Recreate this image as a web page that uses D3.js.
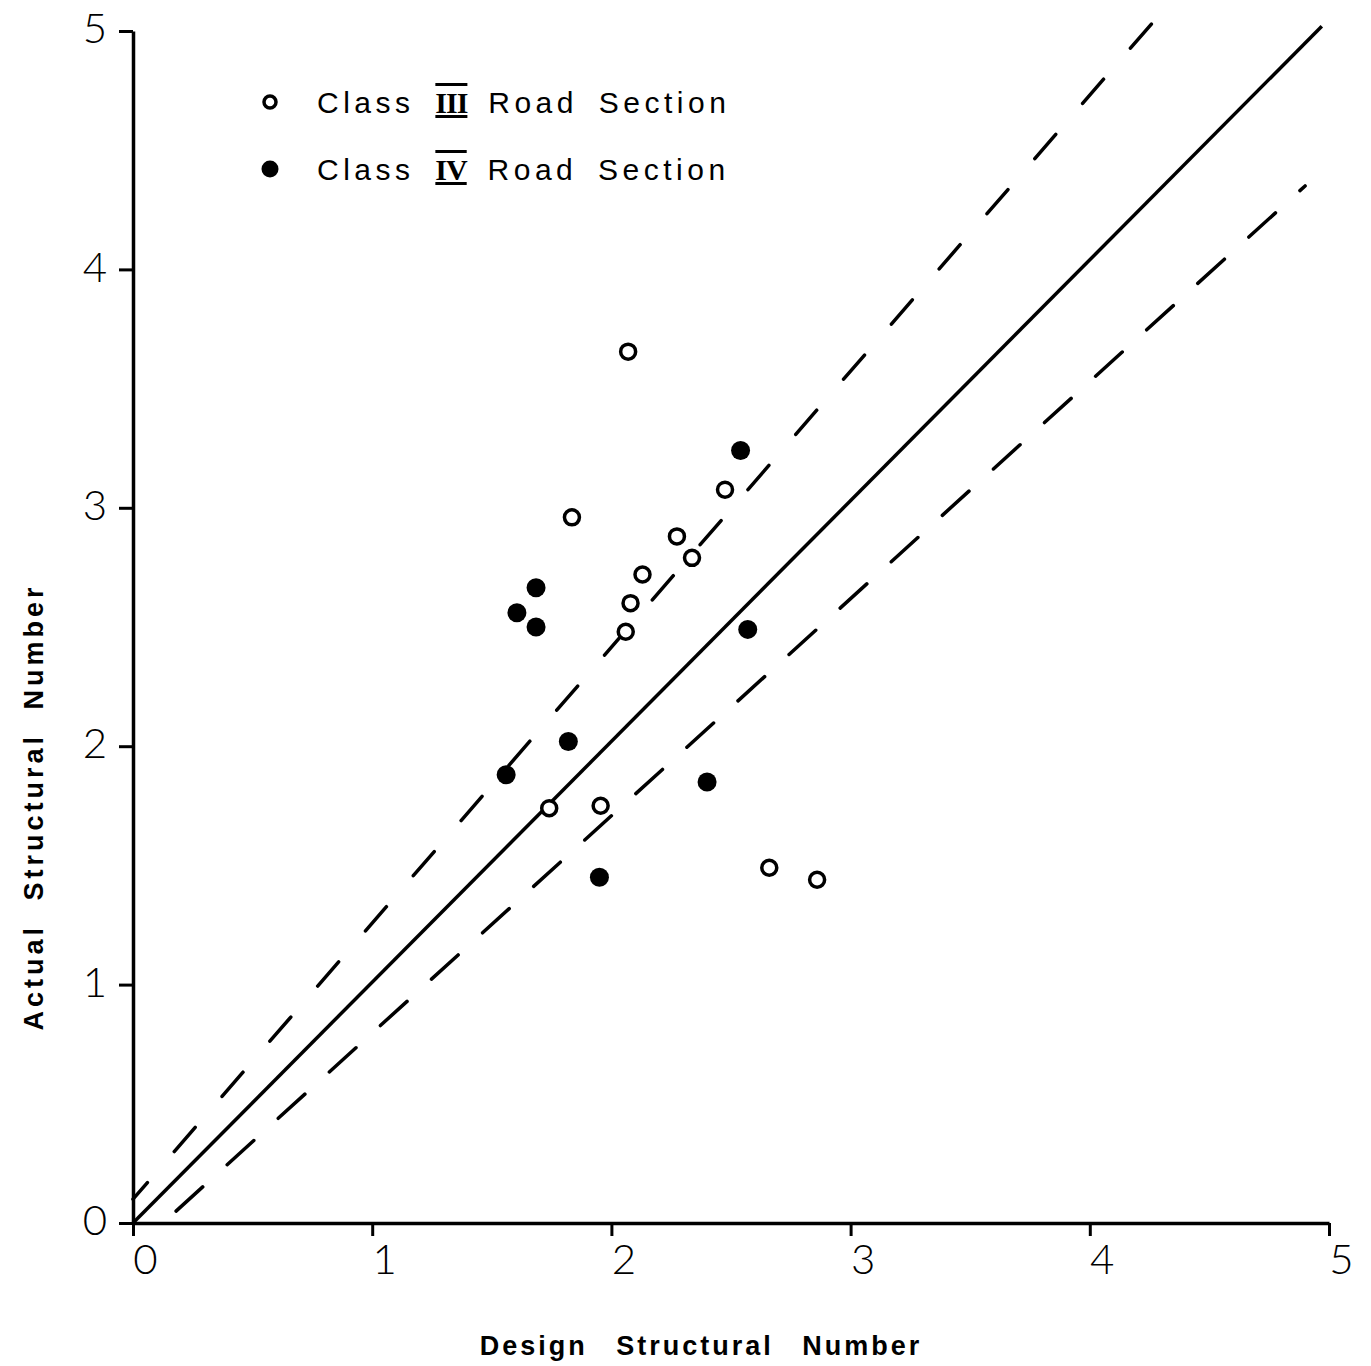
<!DOCTYPE html>
<html>
<head>
<meta charset="utf-8">
<script src="https://cdn.jsdelivr.net/npm/d3@7"></script>
<style>
  html, body { margin: 0; padding: 0; background: #fff; }
  svg { display: block; }
</style>
</head>
<body>
<div id="chart"></div>
<script>
// Data
const classIII = [
    [2.07, 3.655], [1.835, 2.96], [2.475, 3.076], [2.274, 2.88],
    [2.337, 2.79], [2.13, 2.72], [2.08, 2.60], [2.06, 2.48],
    [1.74, 1.74], [1.955, 1.75], [2.66, 1.49], [2.86, 1.44]
];
const classIV = [
    [2.54, 3.24], [1.685, 2.665], [1.605, 2.56], [1.685, 2.50],
    [2.57, 2.49], [1.82, 2.02], [1.56, 1.88], [2.40, 1.85], [1.95, 1.45]
];
const equalityLine = [[0, 0], [4.97, 5.02]];
const upperBound = [[0, 0.1], [4.31, 5.09]];
const lowerBound = [[0.18, 0.05], [4.9, 4.35]];
const ticks = [0, 1, 2, 3, 4, 5];

const width = 1371, height = 1366;

const svg = d3.select('#chart').append('svg')
    .attr('width', width)
    .attr('height', height);

const x = d3.scaleLinear().domain([0, 5]).range([133, 1329]);
const y = d3.scaleLinear().domain([0, 5]).range([1223, 31]);

const digitFont = 'Lato, "DejaVu Sans", sans-serif';
const labelFont = '"Liberation Sans", Arial, sans-serif';

// Axes
const xAxis = svg.append('g')
    .attr('transform', `translate(0,${y(0)})`)
    .call(d3.axisBottom(x).tickValues(ticks).tickFormat(d3.format('d'))
        .tickSize(13).tickSizeOuter(0).tickPadding(8));
const yAxis = svg.append('g')
    .attr('transform', `translate(${x(0)},0)`)
    .call(d3.axisLeft(y).tickValues(ticks).tickFormat(d3.format('d'))
        .tickSize(14).tickSizeOuter(0).tickPadding(12));

[xAxis, yAxis].forEach(g => {
    g.select('.domain').attr('stroke', '#000').attr('stroke-width', 3.5);
    g.selectAll('.tick line').attr('stroke', '#000').attr('stroke-width', 3);
    g.selectAll('.tick text')
        .style('font-family', digitFont)
        .style('font-weight', 300)
        .style('font-size', '42px')
        .attr('fill', '#000');
});
xAxis.selectAll('.tick text').attr('dx', 12).attr('dy', '0.72em');
yAxis.selectAll('.tick text').attr('dy', '0.28em');

// Reference lines
const line = d3.line().x(d => x(d[0])).y(d => y(d[1]));

svg.append('path')
    .attr('d', line(equalityLine))
    .attr('fill', 'none')
    .attr('stroke', '#000')
    .attr('stroke-width', 3.5);

[upperBound, lowerBound].forEach((pts, i) => {
    svg.append('path')
        .attr('d', line(pts))
        .attr('fill', 'none')
        .attr('stroke', '#000')
        .attr('stroke-width', 3.5)
        .attr('stroke-linecap', 'round')
        .attr('stroke-dasharray', i === 0 ? '32 41' : '36 33')
        .attr('stroke-dashoffset', i === 0 ? 10 : 0);
});

// Points
svg.append('g').selectAll('circle')
    .data(classIII)
    .join('circle')
    .attr('cx', d => x(d[0]))
    .attr('cy', d => y(d[1]))
    .attr('r', 7.5)
    .attr('fill', '#fff')
    .attr('stroke', '#000')
    .attr('stroke-width', 3.5);

svg.append('g').selectAll('circle')
    .data(classIV)
    .join('circle')
    .attr('cx', d => x(d[0]))
    .attr('cy', d => y(d[1]))
    .attr('r', 9.5)
    .attr('fill', '#000');

// Legend
const legend = svg.append('g');
const legendRows = [
    { label: 'Class ', numeral: 'III', filled: false, y: 102 },
    { label: 'Class ', numeral: 'IV', filled: true, y: 169 }
];
legendRows.forEach(r => {
    legend.append('circle')
        .attr('cx', 270)
        .attr('cy', r.y)
        .attr('r', r.filled ? 8.5 : 6)
        .attr('fill', r.filled ? '#000' : '#fff')
        .attr('stroke', '#000')
        .attr('stroke-width', r.filled ? 0 : 3.5);
    const t = legend.append('text')
        .attr('x', 317)
        .attr('y', r.y + 11)
        .style('font-family', labelFont)
        .style('font-size', '30px')
        .style('letter-spacing', '4.5px')
        .style('word-spacing', '8px')
        .attr('fill', '#000');
    t.append('tspan').text(r.label);
    t.append('tspan')
        .text(r.numeral)
        .style('font-family', '"Liberation Serif", serif')
        .style('font-weight', 'bold')
        .style('letter-spacing', '-1px')
        .style('text-decoration', 'overline underline');
    t.append('tspan').text('  Road  Section');
});

// Axis titles
svg.append('text')
    .attr('x', 701)
    .attr('y', 1355)
    .attr('text-anchor', 'middle')
    .style('font-family', labelFont)
    .style('font-weight', 'bold')
    .style('font-size', '27px')
    .style('letter-spacing', '3px')
    .style('word-spacing', '18px')
    .text('Design Structural Number');

svg.append('text')
    .attr('transform', `translate(43,807) rotate(-90)`)
    .attr('text-anchor', 'middle')
    .style('font-family', labelFont)
    .style('font-weight', 'bold')
    .style('font-size', '27px')
    .style('letter-spacing', '4px')
    .style('word-spacing', '12px')
    .text('Actual Structural Number');
</script>
</body>
</html>
